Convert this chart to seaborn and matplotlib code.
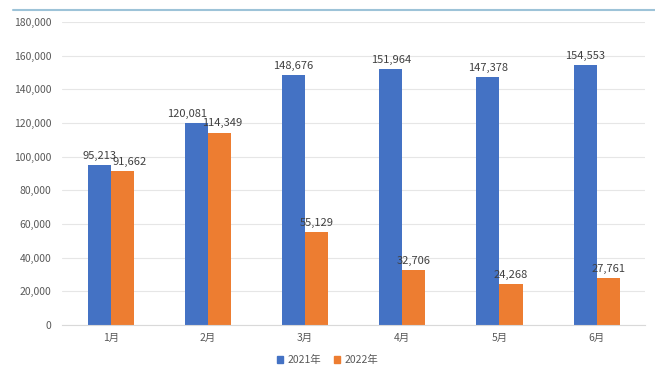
import matplotlib
matplotlib.use("Agg")
import matplotlib.pyplot as plt
import pandas as pd
import seaborn as sns
from matplotlib.lines import Line2D

months = ["1月", "2月", "3月", "4月", "5月", "6月"]
sales_2021 = [95213, 120081, 148676, 151964, 147378, 154553]
sales_2022 = [91662, 114349, 55129, 32706, 24268, 27761]
series = ["2021年", "2022年"]
colors = ["#4472C4", "#ED7D31"]
yticks = list(range(0, 180001, 20000))

df = pd.DataFrame({
    "month": months * 2,
    "sales": sales_2021 + sales_2022,
    "year": [series[0]] * len(months) + [series[1]] * len(months),
})

sns.set_style("white")
plt.rcParams["font.family"] = ["Noto Sans CJK SC", "DejaVu Sans"]

fig = plt.figure(figsize=(6.55, 3.68), dpi=100)
ax = fig.add_axes([0.095, 0.117, 0.89, 0.823])

sns.barplot(data=df, x="month", y="sales", hue="year", palette=colors,
            width=0.475, saturation=1, linewidth=0, ax=ax, legend=False)

# label nudges (points) so the close labels of 1月/2月 don't collide, like Excel does
nudge = [[0, -7, 0, 0, 0, 0], [5, 2, 0, 0, 0, 0]]
for k, cont in enumerate(ax.containers):
    texts = ax.bar_label(cont, labels=[f"{v:,.0f}" for v in cont.datavalues],
                         fontsize=8, color="#404040", padding=3)
    for i, t in enumerate(texts):
        x0, y0 = t.xyann
        t.xyann = (x0 + nudge[k][i], y0)

ax.set_ylim(0, 180000)
ax.set_yticks(yticks)
ax.set_yticklabels([f"{v:,}" for v in yticks], fontsize=7.5, color="#595959")
ax.tick_params(axis="x", labelsize=7.5, colors="#595959", length=0, pad=6)
ax.tick_params(axis="y", length=0, pad=8)
ax.yaxis.grid(True, color="#e6e6e6", linewidth=0.8)
ax.set_axisbelow(True)
ax.set_xlabel("")
ax.set_ylabel("")
for s in ["top", "right", "left"]:
    ax.spines[s].set_visible(False)
ax.spines["bottom"].set_color("#d9d9d9")

# header rule under the (clipped) title
fig.add_artist(Line2D([0.02, 1.0], [0.972, 0.972], transform=fig.transFigure,
                      color="#9dc3d8", linewidth=1.5))

handles = [plt.Rectangle((0, 0), 1, 1, color=c) for c in colors]
fig.legend(handles, series, loc="center", bbox_to_anchor=(0.5, 0.022),
           ncol=2, frameon=False, fontsize=7.5, handlelength=0.6,
           handleheight=0.6, columnspacing=1.2, handletextpad=0.4,
           labelcolor="#595959", borderpad=0.1)

fig.savefig("out.png", dpi=100)
